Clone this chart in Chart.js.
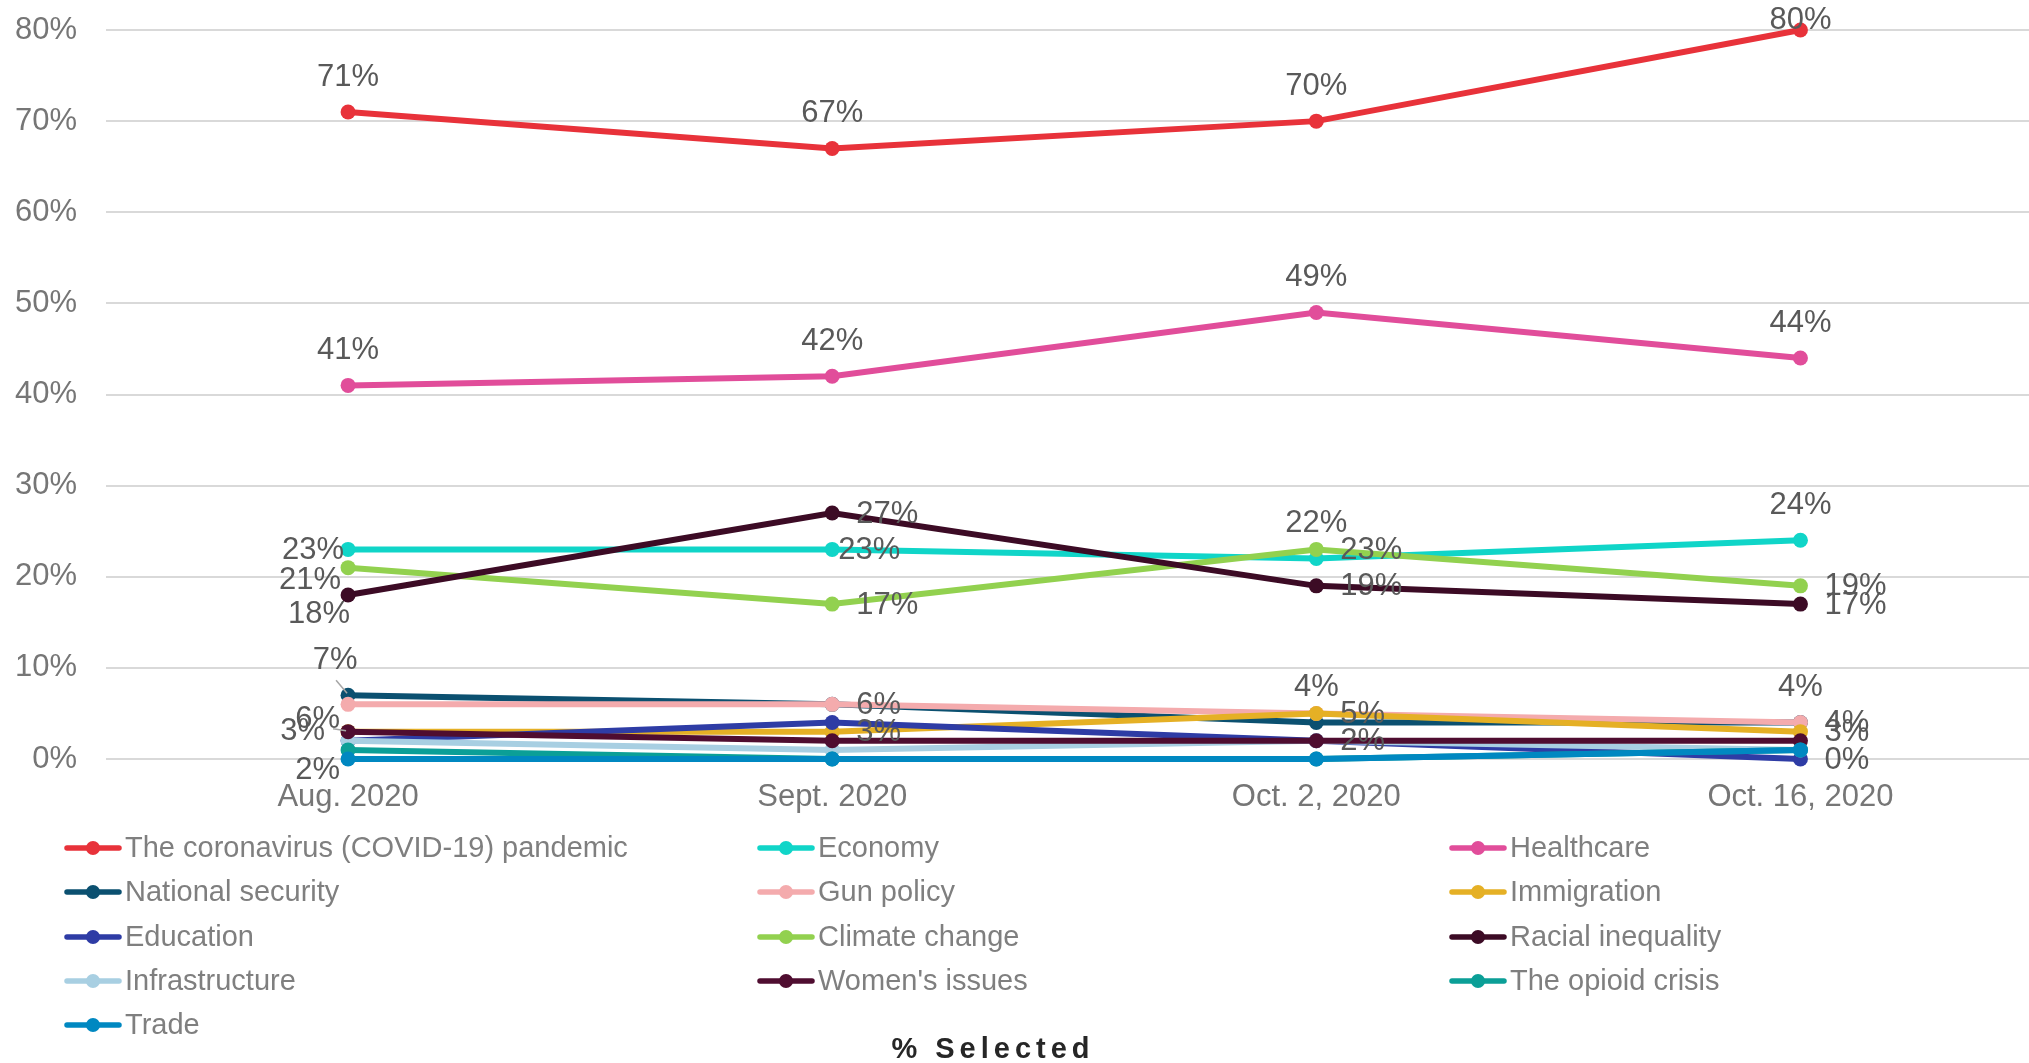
<!DOCTYPE html>
<html><head><meta charset="utf-8">
<script src="https://cdn.jsdelivr.net/npm/chart.js@4.4.1/dist/chart.umd.min.js"></script>
<style>
html,body{margin:0;padding:0;overflow:hidden;background:#fff;width:2029px;height:1063px}
#wrap{position:absolute;left:0;top:0;width:2050px;height:1063px}
</style>
</head><body><div id="wrap"><canvas id="c" width="2050" height="1063"></canvas></div>
<script>
// ---- data ----
const categories = ['Aug. 2020', 'Sept. 2020', 'Oct. 2, 2020', 'Oct. 16, 2020'];
const yTicks = [0, 10, 20, 30, 40, 50, 60, 70, 80];

const covid            = [71, 67, 70, 80];
const economy          = [23, 23, 22, 24];
const healthcare       = [41, 42, 49, 44];
const nationalSecurity = [7, 6, 4, 4];
const gunPolicy        = [6, 6, 5, 4];
const immigration      = [3, 3, 5, 3];
const education        = [2, 4, 2, 0];
const climateChange    = [21, 17, 23, 19];
const racialInequality = [18, 27, 19, 17];
const infrastructure   = [2, 1, 2, 1];
const womensIssues     = [3, 2, 2, 2];
const opioidCrisis     = [1, 0, 0, 1];
const trade            = [0, 0, 0, 1];

const seriesNames = ['The coronavirus (COVID-19) pandemic', 'Economy', 'Healthcare',
  'National security', 'Gun policy', 'Immigration', 'Education', 'Climate change',
  'Racial inequality', 'Infrastructure', "Women's issues", 'The opioid crisis', 'Trade'];
const seriesValues = [covid, economy, healthcare, nationalSecurity, gunPolicy, immigration,
  education, climateChange, racialInequality, infrastructure, womensIssues, opioidCrisis, trade];

// ---- styles ----
const seriesColors = ['#E8323A', '#10D5C8', '#E14D9A', '#0B5070', '#F4ABAD', '#E5B025',
  '#2E3CA5', '#92D14F', '#3C0B25', '#A8CFE2', '#4F0D30', '#0B9F97', '#0088C1'];

// which data labels are shown, and where (per series, per point)
const labelLayout = [
  ['t', 't', 't', 't'],
  ['l', 'r0', 't', 't'],
  ['t', 't', 't', 't'],
  ['tl', null, 't', 't'],
  ['l2', 'r', null, 'r'],
  [null, 'r', 'r', 'r'],
  [null, null, null, 'r'],
  ['lb', 'r', 'r', 'r'],
  ['b', 'r', 'r', 'r'],
  ['bb', null, null, null],
  ['l3', null, 'r', null],
  [null, null, null, null],
  [null, null, null, null]
];
const labelStyles = {
  t:  {align: 'center', dx: 0, dy: -35},
  r:  {align: 'left', dx: 24, dy: 1},
  r0: {align: 'left', dx: 6, dy: 1},
  l:  {align: 'right', dx: -4, dy: 1},
  lb: {align: 'right', dx: -7, dy: 13},
  b:  {align: 'right', dx: 2, dy: 19},
  tl: {align: 'center', dx: -13, dy: -35, leader: [-12, -15, -1, -2]},
  l2: {align: 'right', dx: -8, dy: 15},
  l3: {align: 'right', dx: -23, dy: 0, leader: [-15, -3, -2, -1]},
  bb: {align: 'right', dx: -8, dy: 30}
};

const FONT = '"Liberation Sans", Arial, sans-serif';

const dataLabelsPlugin = {
  id: 'dataLabels',
  afterDatasetsDraw(chart) {
    const ctx = chart.ctx;
    ctx.save();
    ctx.font = '31px ' + FONT;
    ctx.fillStyle = '#595959';
    ctx.textBaseline = 'middle';
    chart.data.datasets.forEach((ds, i) => {
      const meta = chart.getDatasetMeta(i);
      const codes = labelLayout[i];
      meta.data.forEach((pt, j) => {
        const code = codes[j];
        if (!code) return;
        const s = labelStyles[code];
        if (s.leader) {
          ctx.strokeStyle = '#A6A6A6';
          ctx.lineWidth = 1.5;
          ctx.beginPath();
          ctx.moveTo(pt.x + s.leader[0], pt.y + s.leader[1]);
          ctx.lineTo(pt.x + s.leader[2], pt.y + s.leader[3]);
          ctx.stroke();
        }
        let y = pt.y + s.dy;
        if (y < 20) y = 20;
        ctx.textAlign = s.align;
        ctx.fillText(ds.data[j] + '%', pt.x + s.dx, y);
      });
    });
    ctx.restore();
  }
};

const legendPlugin = {
  id: 'gridLegend',
  afterDraw(chart) {
    const ctx = chart.ctx;
    const colX = [67, 760, 1452];
    const rowY = [848, 892, 937, 981, 1025];
    ctx.save();
    ctx.font = '29px ' + FONT;
    ctx.textBaseline = 'middle';
    ctx.textAlign = 'left';
    chart.data.datasets.forEach((ds, i) => {
      const x = colX[i % 3], y = rowY[Math.floor(i / 3)];
      ctx.strokeStyle = ds.borderColor;
      ctx.lineWidth = 5.5;
      ctx.lineCap = 'round';
      ctx.beginPath(); ctx.moveTo(x, y); ctx.lineTo(x + 52, y); ctx.stroke();
      ctx.fillStyle = ds.borderColor;
      ctx.beginPath(); ctx.arc(x + 26, y, 7, 0, Math.PI * 2); ctx.fill();
      ctx.fillStyle = '#7F7F7F';
      ctx.fillText(ds.label, x + 58, y + 1);
    });
    // axis title
    ctx.font = 'bold 29px ' + FONT;
    ctx.fillStyle = '#262626';
    ctx.textAlign = 'center';
    try { ctx.letterSpacing = '5px'; } catch (e) {}
    ctx.fillText('% Selected', 993, 1050);
    ctx.restore();
  }
};

const datasets = seriesValues.map((vals, i) => ({
  label: seriesNames[i],
  data: vals,
  borderColor: seriesColors[i],
  backgroundColor: seriesColors[i],
  pointBackgroundColor: seriesColors[i],
  pointBorderWidth: 0,
  pointRadius: 7.5,
  borderWidth: 6,
  tension: 0,
  fill: false,
  clip: false,
  order: seriesValues.length - i
}));

new Chart(document.getElementById('c'), {
  type: 'line',
  data: {labels: categories, datasets},
  options: {
    responsive: false,
    animation: false,
    layout: {padding: {top: 30, right: 7, left: 0, bottom: 0}},
    plugins: {legend: {display: false}, tooltip: {enabled: false}, title: {display: false}},
    scales: {
      x: {
        offset: true,
        grid: {display: false, drawTicks: false},
        border: {display: false},
        ticks: {color: '#767676', font: {family: FONT, size: 31}, padding: 20, maxRotation: 0, autoSkip: false},
        afterFit(s) { s.height = 304; s.paddingLeft = 0; s.paddingRight = 0; }
      },
      y: {
        min: 0, max: 80,
        afterBuildTicks(s) { s.ticks = yTicks.map(v => ({value: v})); },
        grid: {color: '#D9D9D9', lineWidth: 2, drawTicks: false},
        border: {display: false},
        ticks: {color: '#767676', font: {family: FONT, size: 31}, padding: 29, callback: v => v + '%'},
        afterFit(s) { s.width = 106; s.paddingTop = 0; s.paddingBottom = 0; }
      }
    }
  },
  plugins: [dataLabelsPlugin, legendPlugin]
});
</script>
</body></html>
